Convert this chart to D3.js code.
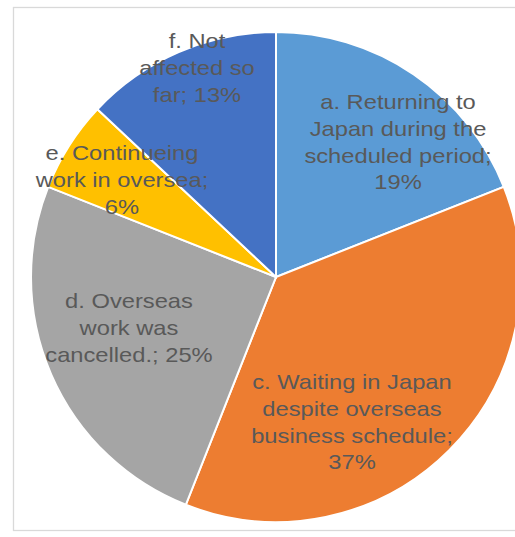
<!DOCTYPE html>
<html>
<head>
<meta charset="utf-8">
<script src="https://cdn.jsdelivr.net/npm/d3@7"></script>
<style>
    body { margin: 0; background: #fff; }
    svg { display: block; }
</style>
</head>
<body>
<svg id="chart"></svg>
<script>
// slice data, clockwise from 12 o'clock
const labels = [
    ["a. Returning to", "Japan during the", "scheduled period;", "19%"],
    ["c. Waiting in Japan", "despite overseas", "business schedule;", "37%"],
    ["d. Overseas", "work was", "cancelled.; 25%"],
    ["e. Continueing", "work in oversea;", "6%"],
    ["f. Not", "affected so", "far; 13%"]
];
const values = [19, 37, 25, 6, 13];
const colors = ["#5B9BD5", "#ED7D31", "#A5A5A5", "#FFC000", "#4472C4"];

// where the data labels sit (centre x, first baseline y)
const labelPos = [[398, 109], [352, 389], [129, 308], [122, 160], [197, 48]];

var width = 515, height = 537;
var cx = 276, cy = 277, radius = 245;

const svg = d3.select("#chart")
    .attr("width", width)
    .attr("height", height);

// chart area frame
svg.append("rect")
    .attr("x", 13.5)
    .attr("y", 7.5)
    .attr("width", 560)
    .attr("height", 523)
    .attr("fill", "#fff")
    .attr("stroke", "#D9D9D9")
    .attr("stroke-width", 1.3);

const pie = d3.pie().sort(null).value(d => d);
const arc = d3.arc().innerRadius(0).outerRadius(radius);

const g = svg.append("g")
    .attr("transform", "translate(" + cx + "," + cy + ")");

g.selectAll("path")
    .data(pie(values))
    .join("path")
    .attr("d", arc)
    .attr("fill", (d, i) => colors[i])
    .attr("stroke", "#fff")
    .attr("stroke-width", 2);

// labels (text looks a bit wide in the original, so stretch horizontally)
labels.forEach(function(lines, i) {
    var t = svg.append("text")
        .attr("transform", "translate(" + labelPos[i][0] + "," + labelPos[i][1] + ") scale(1.13,1)")
        .attr("text-anchor", "middle")
        .style("font-family", "'Liberation Sans', Arial, sans-serif")
        .style("font-size", "21px")
        .attr("fill", "#595959");
    lines.forEach(function(line, j) {
        t.append("tspan")
            .attr("x", 0)
            .attr("y", j * 26.8)
            .text(line);
    });
});
</script>
</body>
</html>
